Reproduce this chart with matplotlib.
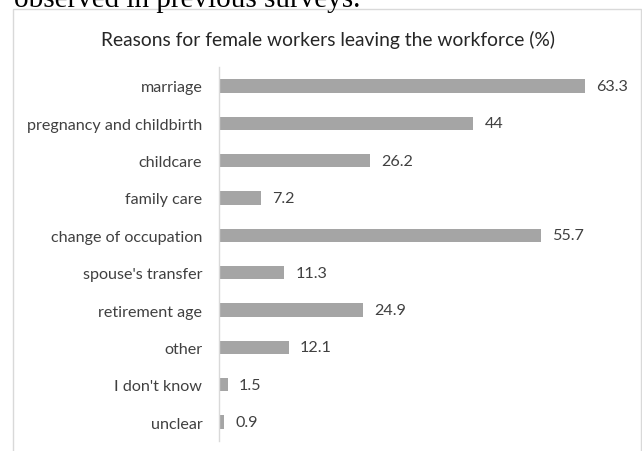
import matplotlib.pyplot as plt
from matplotlib.patches import Rectangle

# chart data
reasons = ["marriage", "pregnancy and childbirth", "childcare", "family care",
           "change of occupation", "spouse's transfer", "retirement age",
           "other", "I don't know", "unclear"]
percent = [63.3, 44, 26.2, 7.2, 55.7, 11.3, 24.9, 12.1, 1.5, 0.9]
value_labels = ["63.3", "44", "26.2", "7.2", "55.7", "11.3", "24.9", "12.1", "1.5", "0.9"]

W, H = 642, 452
fig = plt.figure(figsize=(W / 100, H / 100), dpi=100)
fig.patch.set_facecolor("white")

# chart frame (Excel style border)
fig.patches.append(Rectangle((13 / W, -0.05), (641 - 13) / W, 1.05 - 10 / H,
                             transform=fig.transFigure, fill=False,
                             edgecolor="#d9d9d9", linewidth=1))

# clipped body text above the chart
fig.text(14 / W, 1 - 7 / H, "observed in previous surveys.", family="Liberation Serif",
         fontsize=21, color="black", va="baseline", ha="left")

fig.text((100 + 556) / 2 / W, 1 - 40 / H,
         "Reasons for female workers leaving the workforce (%)",
         family="Lato", fontsize=13.9, color="#262626", ha="center", va="center")

ax = fig.add_axes([219 / W, 10.3 / H, 404.6 / W, 373.4 / H])
ypos = list(range(len(reasons)))
ax.barh(ypos, percent, height=0.35, color="#a5a5a5")
ax.set_xlim(0, 70)
ax.set_ylim(len(reasons) - 0.5, -0.5)
ax.set_yticks(ypos)
ax.set_yticklabels(reasons, family="Lato", fontsize=11.6, color="#404040")
ax.tick_params(axis="y", length=0, pad=12)
ax.set_xticks([])
for s in ["top", "right", "bottom"]:
    ax.spines[s].set_visible(False)
ax.spines["left"].set_color("#d9d9d9")
ax.spines["left"].set_linewidth(1)

for y, v, lab in zip(ypos, percent, value_labels):
    ax.annotate(lab, (v, y), xytext=(8, 0), textcoords="offset points",
                va="center", ha="left", family="Lato", fontsize=11.6, color="#404040")

fig.savefig("out.png", dpi=100)
